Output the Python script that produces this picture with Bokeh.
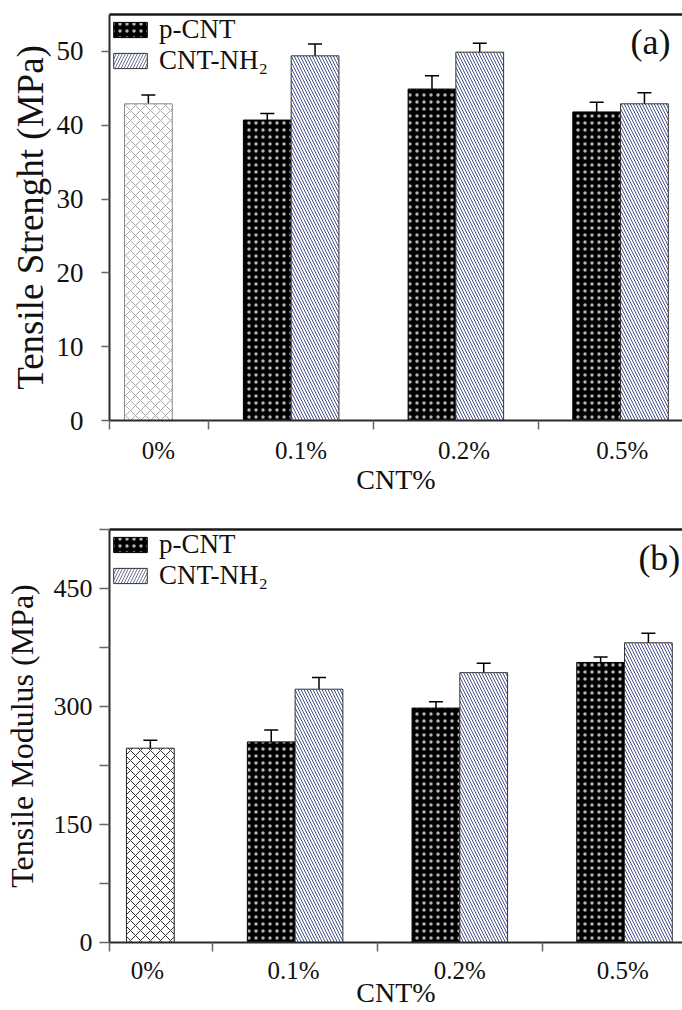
from bokeh.plotting import figure
from bokeh.models import (ColumnDataSource, Range1d, FixedTicker, LinearAxis, Whisker,
                          TeeHead, Legend, LegendItem, Label, CustomJSTickFormatter)
from bokeh.layouts import column
from bokeh.embed import file_html
from bokeh.resources import INLINE

# ---------------- data ----------------
categories = ["0%", "0.1%", "0.2%", "0.5%"]
series_names = ["p-CNT", "CNT-NH\u2082"]

# Tensile strength (MPa)
ts_control = [42.9]
ts_control_err = [1.2]
ts_pcnt = [40.7, 44.9, 41.8]
ts_pcnt_err = [0.9, 1.8, 1.3]
ts_nh2 = [49.4, 49.9, 42.9]
ts_nh2_err = [1.6, 1.2, 1.5]

# Tensile modulus (MPa)
tm_control = [247]
tm_control_err = [10]
tm_pcnt = [255, 298, 356]
tm_pcnt_err = [15, 8, 7]
tm_nh2 = [322, 343, 381]
tm_nh2_err = [15, 12, 12]

ts_ticks = [0, 10, 20, 30, 40, 50]
tm_ticks = [0, 75, 150, 225, 300, 375, 450, 525]

FONT = "Liberation Serif"
TXT = "#111111"
AX = "#2b2b2b"
NAVY = "#44518a"

BAR_W = 0.29
OFF = 0.145


def make_panel(height, xr, yr, min_top, min_bottom, ctrl_x, label_ticks, yticks,
               ctrl, ctrl_err, pc, pc_err, nh, nh_err, ylab, ylab_size,
               ctrl_hatch_color, ctrl_line_color, ytick_out, ytick_standoff,
               ylab_standoff, xlab_standoff1, xlab_standoff2, panel_tag, tag_xy,
               ytick_fmt_code, ytick_size, leg_spacing):
    p = figure(width=682, height=height, x_range=Range1d(*xr), y_range=Range1d(*yr),
               output_backend="svg", toolbar_location=None,
               min_border_left=108, min_border_right=0,
               min_border_top=min_top, min_border_bottom=min_bottom)
    p.grid.visible = False
    p.outline_line_color = None
    p.background_fill_color = "white"
    p.border_fill_color = "white"

    groups = [1, 2, 3]
    # control bar
    p.vbar(x=[ctrl_x], top=ctrl, width=BAR_W, fill_color="white",
           hatch_pattern="diagonal_cross", hatch_color=ctrl_hatch_color,
           hatch_scale=10, hatch_weight=1, line_color=ctrl_line_color, line_width=1)
    # p-CNT bars
    r_p = p.vbar(x=[g - OFF for g in groups], top=pc, width=BAR_W, fill_color="black",
                 hatch_pattern="dot", hatch_color="#b4b4b4", hatch_scale=7,
                 hatch_weight=1.0, line_color="black", line_width=1)
    # CNT-NH2 bars
    p.vbar(x=[g + OFF for g in groups], top=nh, width=BAR_W, fill_color="white",
           hatch_pattern="left_diagonal_line", hatch_color=NAVY, hatch_scale=6,
           hatch_weight=1, line_color="#333333", line_width=1)
    # legend proxy for CNT-NH2 (swatch drawn with "/" lines as in the original key)
    r_leg = p.vbar(x=[-10], top=[1], width=BAR_W, fill_color="white",
                   hatch_pattern="right_diagonal_line", hatch_color="#6a7398",
                   hatch_scale=6, hatch_weight=1, line_color="#333333", line_width=1)

    # error bars
    xs = [ctrl_x] + [g - OFF for g in groups] + [g + OFF for g in groups]
    vals = ctrl + pc + nh
    errs = ctrl_err + pc_err + nh_err
    src = ColumnDataSource(dict(x=xs, upper=[v + e for v, e in zip(vals, errs)],
                                lower=[v - e for v, e in zip(vals, errs)]))
    w = Whisker(base="x", upper="upper", lower="lower", source=src,
                line_color="black", line_width=1.5,
                upper_head=TeeHead(size=14, line_color="black", line_width=1.5),
                lower_head=TeeHead(size=14, line_color="black", line_width=1.5))
    p.add_layout(w)

    # x axis
    xa = p.xaxis[0]
    xa.ticker = FixedTicker(ticks=label_ticks,
                            minor_ticks=[xr[0] + 0.002, 0.5, 1.5, 2.5])
    xa.formatter = CustomJSTickFormatter(args=dict(labels=categories),
                                         code="return labels[index]")
    xa.axis_line_color = AX
    xa.axis_line_width = 2
    xa.major_tick_out = 0
    xa.major_tick_in = 0
    xa.minor_tick_out = 9
    xa.minor_tick_in = 0
    xa.minor_tick_line_color = "#666666"
    xa.minor_tick_line_width = 1.5
    xa.major_label_text_font = FONT
    xa.major_label_text_font_size = "25px"
    xa.major_label_text_color = TXT
    xa.major_label_standoff = xlab_standoff1
    xa.axis_label = "CNT%"
    xa.axis_label_text_font = FONT
    xa.axis_label_text_font_size = "28px"
    xa.axis_label_text_font_style = "normal"
    xa.axis_label_text_color = TXT
    xa.axis_label_standoff = xlab_standoff2

    # y axis
    ya = p.yaxis[0]
    ya.ticker = FixedTicker(ticks=yticks, minor_ticks=[])
    ya.formatter = CustomJSTickFormatter(code=ytick_fmt_code)
    ya.axis_line_color = AX
    ya.axis_line_width = 2
    ya.major_tick_out = ytick_out
    ya.major_tick_in = 0
    ya.major_tick_line_color = "#666666"
    ya.major_tick_line_width = 1.5
    ya.minor_tick_line_color = None
    ya.major_label_text_font = FONT
    ya.major_label_text_font_size = ytick_size
    ya.major_label_text_color = TXT
    ya.major_label_standoff = ytick_standoff
    ya.axis_label = ylab
    ya.axis_label_text_font = FONT
    ya.axis_label_text_font_size = ylab_size
    ya.axis_label_text_font_style = "normal"
    ya.axis_label_text_color = TXT
    ya.axis_label_standoff = ylab_standoff

    # top border line
    top_ax = LinearAxis(ticker=FixedTicker(ticks=[]), axis_line_color="#1a1a1a",
                        axis_line_width=2.5, major_tick_line_color=None,
                        minor_tick_line_color=None, major_label_text_font_size="0px",
                        major_label_standoff=0, major_tick_out=0, minor_tick_out=0,
                        major_tick_in=0, minor_tick_in=0)
    p.add_layout(top_ax, "above")

    legend = Legend(items=[LegendItem(label=series_names[0], renderers=[r_p]),
                           LegendItem(label=series_names[1], renderers=[r_leg])],
                    location="top_left", glyph_width=42, glyph_height=19,
                    label_text_font=FONT, label_text_font_size="27px",
                    label_text_color=TXT, label_standoff=8, padding=4, margin=0,
                    spacing=leg_spacing, border_line_color=None, background_fill_alpha=0)
    p.add_layout(legend)

    p.add_layout(Label(x=tag_xy[0], y=tag_xy[1], text=panel_tag, text_font=FONT,
                       text_font_size="36px", text_color=TXT, text_align="right",
                       text_baseline="middle"))
    return p


p1 = make_panel(500, (-0.103, 3.376), (0, 55), 14, 80, 0.133, [0.194, 1.06, 2.05, 3.01],
                ts_ticks, ts_control, ts_control_err, ts_pcnt, ts_pcnt_err,
                ts_nh2, ts_nh2_err, "Tensile Strenght (MPa)", "37px",
                "#a8a8a8", "#8a8a8a", 8, 18, 3, 7, -3, "(a)", (3.303, 51.3),
                "return tick.toFixed(0)", "27px", -4)

p2 = make_panel(510, (-0.127, 3.352), (0, 525), 29, 67, 0.121, [0.103, 0.99, 2.0, 2.99],
                tm_ticks, tm_control, tm_control_err, tm_pcnt, tm_pcnt_err,
                tm_nh2, tm_nh2_err, "Tensile Modulus (MPa)", "32px",
                "#333333", "#222222", 10, 7, 11, 5, -10, "(b)", (3.339, 489),
                "return (tick % 150 == 0 && tick <= 450) ? tick.toFixed(0) : ''", "26px", 0)

layout = column(p1, p2, spacing=0)
open("out.html", "w").write(file_html(layout, INLINE))
